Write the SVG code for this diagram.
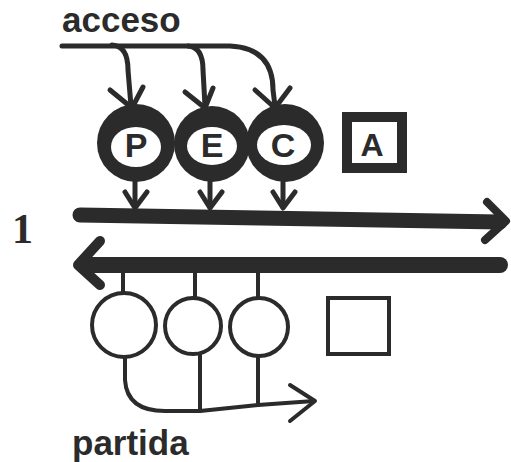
<svg xmlns="http://www.w3.org/2000/svg" width="511" height="462" viewBox="0 0 511 462">
<style>
.ink{fill:none;stroke:#2b2b2b;stroke-linecap:round;stroke-linejoin:round}
.t{font-family:"Liberation Sans",Arial,sans-serif;font-weight:bold;fill:#2b2b2b}
.thin{fill:#fff;stroke:#2b2b2b;stroke-width:4}
.ring{fill:#2b2b2b}
.hole{fill:#fff}
</style>
<rect width="511" height="462" fill="#fff"/>
<text class="t" x="62" y="32" font-size="35">acceso</text>
<text x="12" y="243" font-family="'Liberation Serif',serif" font-size="42" font-weight="bold" fill="#2b2b2b">1</text>
<text class="t" x="72" y="455" font-size="35">partida</text>
<g id="connectors">
  <path class="ink" stroke-width="5" d="M62 46 L230 46 Q273 48 273 90 L275 106"/>
  <path class="ink" stroke-width="5" d="M112 45 Q128 46 128 70 L131 106"/>
  <path class="ink" stroke-width="5" d="M188 46 Q203 47 203 70 L205 106"/>
  <path class="ink" stroke-width="5" d="M110 90 L132 108 L143 87 M185 92 L205 108 L213 88 M255 90 L275 108 L290 88"/>
  <path class="ink" stroke-width="5" d="M135 180 L135 207 M210 182 L210 207 M283 182 L283 207"/>
  <path class="ink" stroke-width="5" d="M125 192 L135 208 L147 192 M200 192 L210 208 L222 192 M273 192 L283 208 L295 192"/>
  <path class="ink" stroke-width="15" stroke-linecap="butt" d="M80 215 L500 222"/>
  <path class="ink" stroke-width="8" d="M487 202 L506 221 L485 240"/>
  <path class="ink" stroke-width="16" stroke-linecap="butt" d="M84 265 L500 265"/>
  <path class="ink" stroke-width="10" d="M100 241 L78 265 L100 285"/>
  <path class="ink" stroke-width="4" d="M123 270 L123 293 M195 270 L195 298 M258 270 L258 298"/>
  <path class="ink" stroke-width="4" d="M125 357 L125 380 Q127 411 165 411 L200 411 L258 405 L314 401"/>
  <path class="ink" stroke-width="4" d="M200 354 L200 411 M258 356 L258 405"/>
  <path class="ink" stroke-width="4" d="M290 385 L315 401 L290 421"/>
</g>
<g id="P">
  <circle class="ring" cx="136" cy="143" r="39"/>
  <ellipse class="hole" cx="136" cy="147" rx="25" ry="20"/>
  <text class="t" x="136" y="157" font-size="34" text-anchor="middle">P</text>
</g>
<g id="E">
  <circle class="ring" cx="212" cy="144" r="38"/>
  <ellipse class="hole" cx="212" cy="146" rx="25" ry="19"/>
  <text class="t" x="212" y="157" font-size="34" text-anchor="middle">E</text>
</g>
<g id="C">
  <circle class="ring" cx="285" cy="143" r="39"/>
  <ellipse class="hole" cx="284" cy="145" rx="27" ry="20"/>
  <text class="t" x="283" y="157" font-size="34" text-anchor="middle">C</text>
</g>
<g id="A">
  <rect x="347" y="117" width="55" height="51" fill="#fff" stroke="#2b2b2b" stroke-width="10"/>
  <text class="t" x="372" y="156" font-size="32" text-anchor="middle">A</text>
</g>
<g id="c1"><circle class="thin" cx="124" cy="325" r="32"/></g>
<g id="c2"><circle class="thin" cx="193" cy="326" r="28"/></g>
<g id="c3"><circle class="thin" cx="259" cy="327" r="29"/></g>
<g id="box"><rect class="thin" x="328" y="298" width="61" height="56"/></g>
</svg>
